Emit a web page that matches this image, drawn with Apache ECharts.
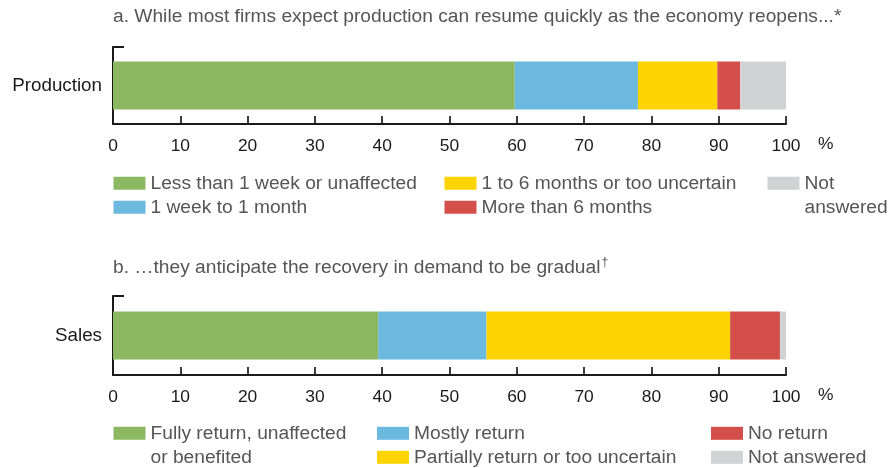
<!DOCTYPE html>
<html>
<head>
<meta charset="utf-8">
<script src="https://cdn.jsdelivr.net/npm/echarts@6/dist/echarts.min.js"></script>
<style>
html,body{margin:0;padding:0;background:#fff;}
#chart{width:890px;height:468px;}
</style>
</head>
<body>
<div id="chart"></div>
<script>
// ---- data ----
const productionCategories = ['Production'];
const salesCategories = ['Sales'];
const productionNames = ['Less than 1 week or unaffected', '1 week to 1 month', '1 to 6 months or too uncertain', 'More than 6 months', 'Not answered'];
const productionValues = [59.7, 18.3, 11.8, 3.4, 6.8];
const salesNames = ['Fully return, unaffected or benefited', 'Mostly return', 'Partially return or too uncertain', 'No return', 'Not answered (sales)'];
const salesValues = [39.4, 16.1, 36.2, 7.4, 0.9];
const xTicks = [0, 10, 20, 30, 40, 50, 60, 70, 80, 90, 100];
const titleA = 'a. While most firms expect production can resume quickly as the economy reopens...';
const titleB = 'b. \u2026they anticipate the recovery in demand to be gradual';

// ---- styles ----
const FONT = 'Liberation Sans, Arial, Helvetica, sans-serif';
const colors = ['#8CB862', '#6BB9DF', '#FDD300', '#D44E4A', '#D1D2D4'];
const AX = '#1a1a1a';
const TXT = '#555';

function xAxis(gridIndex) {
  return {
    type: 'value', gridIndex: gridIndex, min: xTicks[0], max: xTicks[xTicks.length - 1], interval: xTicks[1] - xTicks[0],
    axisLine: { show: true, lineStyle: { color: AX, width: 2 } },
    axisTick: { show: true, inside: true, length: 8, lineStyle: { color: AX, width: 1.7 } },
    axisLabel: { color: AX, fontSize: 17.4, fontFamily: FONT, margin: 14 },
    splitLine: { show: false },
    name: '\n%', nameLocation: 'end', nameGap: 32,
    nameTextStyle: { color: AX, fontSize: 17.4, fontFamily: FONT, lineHeight: 41 }
  };
}
function yAxis(gridIndex, cats) {
  return {
    type: 'category', gridIndex: gridIndex, data: cats,
    axisLine: { show: true, lineStyle: { color: AX, width: 2 } },
    axisTick: { show: true, inside: true, length: 11, lineStyle: { color: AX, width: 2 } },
    axisLabel: { color: AX, fontSize: 18.8, fontFamily: FONT, margin: 11 }
  };
}
function barSeries(names, values, axisIndex, stack) {
  return names.map(function (n, i) {
    return {
      type: 'bar', name: n, stack: stack, xAxisIndex: axisIndex, yAxisIndex: axisIndex,
      barWidth: 48, data: [values[i]], itemStyle: { color: colors[i] },
      emphasis: { disabled: true }, silent: true
    };
  });
}
function legend(names, left, top, labels) {
  return {
    orient: 'vertical', left: left, top: top, height: 100, padding: 0, itemGap: 0,
    itemWidth: 32, itemHeight: 13, icon: 'rect', selectedMode: false,
    data: names,
    formatter: function (n) { return labels[n] || n; },
    textStyle: { color: TXT, fontSize: 19.2, fontFamily: FONT, lineHeight: 24 }
  };
}

const labelMap1 = {}; productionNames.forEach(function (n) { labelMap1[n] = n; });
labelMap1['Not answered'] = '\nNot\nanswered';
const labelMap2 = {}; salesNames.forEach(function (n) { labelMap2[n] = n; });
labelMap2['Fully return, unaffected or benefited'] = '\nFully return, unaffected\nor benefited';
labelMap2['Not answered (sales)'] = 'Not answered';

const titleStyle = {
  color: TXT, fontSize: 19.2, fontFamily: FONT, fontWeight: 'normal', lineHeight: 22,
  rich: {
    dag: { fontSize: 12, fontFamily: FONT, color: TXT, verticalAlign: 'top', lineHeight: 22, padding: [0, 0, 6, 1] }
  }
};

const option = {
  animation: false,
  backgroundColor: '#fff',
  title: [
    { text: titleA + '*', left: 113, top: 6, padding: 0, textStyle: titleStyle },
    { text: titleB + '{dag|\u2020}', left: 113, top: 257, padding: 0, textStyle: titleStyle }
  ],
  grid: [
    { left: 113, right: 104, top: 47, height: 77 },
    { left: 113, right: 104, top: 296, height: 79 }
  ],
  xAxis: [xAxis(0), xAxis(1)],
  yAxis: [yAxis(0, productionCategories), yAxis(1, salesCategories)],
  legend: [
    legend([productionNames[0], productionNames[1]], 113.5, 171.3, labelMap1),
    legend([productionNames[2], productionNames[3]], 444.5, 171.3, labelMap1),
    legend([productionNames[4]], 767.5, 147.3, labelMap1),
    legend([salesNames[0]], 113.5, 397.3, labelMap2),
    legend([salesNames[1], salesNames[2]], 377, 421.3, labelMap2),
    legend([salesNames[3], salesNames[4]], 711, 421.3, labelMap2)
  ],
  series: barSeries(productionNames, productionValues, 0, 'p').concat(barSeries(salesNames, salesValues, 1, 's'))
};

const chart = echarts.init(document.getElementById('chart'), null, { renderer: 'canvas' });
chart.setOption(option);
</script>
</body>
</html>
